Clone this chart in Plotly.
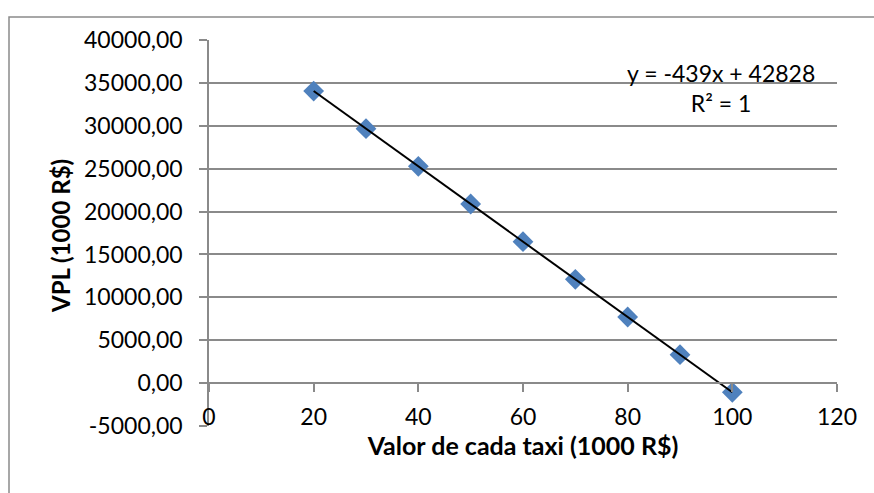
import numpy as np
import plotly.graph_objects as go

# Data
valor_taxi = [20, 30, 40, 50, 60, 70, 80, 90, 100]
vpl = [34048, 29658, 25268, 20878, 16488, 12098, 7708, 3318, -1072]

x_ticks = [0, 20, 40, 60, 80, 100, 120]
y_ticks = [-5000, 0, 5000, 10000, 15000, 20000, 25000, 30000, 35000, 40000]
y_tick_labels = ["-5000,00", "0,00", "5000,00", "10000,00", "15000,00",
                 "20000,00", "25000,00", "30000,00", "35000,00", "40000,00"]

x_title = "Valor de cada taxi (1000 R$)"
y_title = "VPL (1000 R$)"

# Linear trendline (as in the spreadsheet)
slope, intercept = np.polyfit(valor_taxi, vpl, 1)
trend_x = [min(valor_taxi), max(valor_taxi)]
trend_y = [slope * v + intercept for v in trend_x]
eq_text = f"y = {slope:.0f}x + {intercept:.0f}<br>R² = 1"

FONT = "Lato"
GRID = "#8a8a8a"
TICK_SIZE = 23
TITLE_SIZE = 25

# layout geometry in pixels
W, H = 874, 493
L, R, T = 209, 837, 40
B_PLOT = 426        # bottom of the value range (-5000)
B_PAPER = 433       # bottom of the paper area
def px_x(p):
    return (p - L) / (R - L)
def px_y(p):
    return (B_PAPER - p) / (B_PAPER - T)
y_dom0 = px_y(B_PLOT)
zero_pos = y_dom0 + (1 - y_dom0) * (0 - (-5000)) / 45000

fig = go.Figure()
fig.add_trace(go.Scatter(
    x=valor_taxi, y=vpl, mode="markers",
    marker=dict(symbol="diamond", size=16, color="#4F81BD",
                line=dict(width=0)),
    showlegend=False, xaxis="x", yaxis="y"))
fig.add_trace(go.Scatter(
    x=trend_x, y=trend_y, mode="lines",
    line=dict(color="black", width=2),
    showlegend=False, xaxis="x", yaxis="y"))
# helper trace so the axis at y=0 is drawn
fig.add_trace(go.Scatter(x=[None], y=[None], xaxis="x2", yaxis="y",
                         showlegend=False, hoverinfo="skip"))

fig.update_layout(
    width=W, height=H,
    margin=dict(l=L, r=W - R, t=T, b=H - B_PAPER),
    paper_bgcolor="white", plot_bgcolor="white",
    font=dict(family=FONT, size=TICK_SIZE, color="black"),
    xaxis=dict(
        range=[0, 120], tickvals=x_ticks,
        anchor="free", position=0,
        showgrid=False, zeroline=False, showline=False,
        ticks="", ticklabelposition="inside", ticklabeloverflow="allow",
        tickfont=dict(family=FONT, size=TICK_SIZE, color="black"),
        title=dict(text=f"<b>{x_title}</b>", standoff=5,
                   font=dict(family=FONT, size=TITLE_SIZE, color="black")),
    ),
    xaxis2=dict(
        range=[0, 120], tickvals=x_ticks,
        overlaying="x", anchor="free", position=zero_pos,
        showgrid=False, zeroline=False, showline=True,
        linecolor=GRID, linewidth=1.5,
        ticks="outside", ticklen=8, tickcolor=GRID, tickwidth=1.5,
        showticklabels=False,
    ),
    yaxis=dict(
        domain=[y_dom0, 1],
        range=[-5000, 40000], tickvals=y_ticks, ticktext=y_tick_labels,
        showgrid=True, gridcolor=GRID, gridwidth=1.5,
        zeroline=False, showline=True, linecolor=GRID, linewidth=1.5,
        ticks="outside", ticklen=8, tickcolor=GRID, tickwidth=1.5,
        ticklabelstandoff=12,
        tickfont=dict(family=FONT, size=TICK_SIZE, color="black"),
    ),
    shapes=[dict(type="rect", xref="paper", yref="paper",
                 x0=px_x(9), x1=2, y0=-1, y1=px_y(17),
                 line=dict(color=GRID, width=1.5), layer="below")],
    annotations=[
        dict(x=px_x(721), y=px_y(88), xref="paper", yref="paper",
             xanchor="center", yanchor="middle",
             text=eq_text, showarrow=False, align="center",
             font=dict(family=FONT, size=TICK_SIZE, color="black")),
        dict(x=px_x(60), y=px_y(236), xref="paper", yref="paper",
             xanchor="center", yanchor="middle", textangle=-90,
             text=f"<b>{y_title}</b>", showarrow=False,
             font=dict(family=FONT, size=24, color="black")),
    ],
)

fig.write_html("out.html")
